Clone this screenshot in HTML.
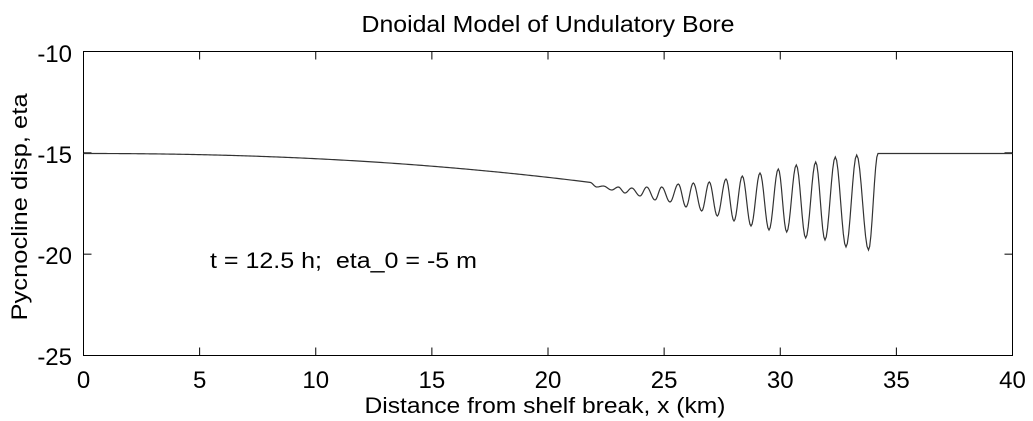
<!DOCTYPE html>
<html><head><meta charset="utf-8"><style>
html,body{margin:0;padding:0;background:#fff;}
svg{display:block;font-family:"Liberation Sans",Arial,sans-serif;}
</style></head><body>
<svg id="s" width="1033" height="421" viewBox="0 0 1033 421">
<rect x="0" y="0" width="1033" height="421" fill="#fff"/>
<text x="548" y="32" font-size="23" text-anchor="middle" textLength="373" lengthAdjust="spacingAndGlyphs">Dnoidal Model of Undulatory Bore</text>
<rect x="83.5" y="51.5" width="929" height="304" fill="none" stroke="#000" stroke-width="1"/>
<g id="ticks" stroke="#000" stroke-width="1"></g>
<g font-size="24" text-anchor="end">
<text x="72" y="62">-10</text>
<text x="72" y="163">-15</text>
<text x="72" y="264">-20</text>
<text x="72" y="365">-25</text>
</g>
<g id="xl" font-size="24" text-anchor="middle"></g>
<text x="545" y="413" font-size="22" text-anchor="middle" textLength="361" lengthAdjust="spacingAndGlyphs">Distance from shelf break, x (km)</text>
<text transform="translate(27,207) rotate(-90)" font-size="22" text-anchor="middle" textLength="227" lengthAdjust="spacingAndGlyphs">Pycnocline disp, eta</text>
<text x="210" y="268" font-size="22" textLength="267" lengthAdjust="spacingAndGlyphs" xml:space="preserve">t = 12.5 h;  eta_0 = -5 m</text>
<path id="c" fill="none" stroke="#333" stroke-width="1.2"/>
</svg>
<script>
var X0=83.5,X1=1012.5,Y0=51.5,Y1=355.5;
var t='',xl='';
for(var i=0;i<=8;i++){var x=X0+(X1-X0)*i/8;
 if(i>0&&i<8)t+='<line x1="'+x+'" y1="'+Y1+'" x2="'+x+'" y2="'+(Y1-8)+'"/><line x1="'+x+'" y1="'+Y0+'" x2="'+x+'" y2="'+(Y0+8)+'"/>';
 xl+='<text x="'+x+'" y="388">'+(i*5)+'</text>';}
for(var j=1;j<3;j++){var y=Y0+(Y1-Y0)*j/3;
 t+='<line x1="'+X0+'" y1="'+y+'" x2="'+(X0+8)+'" y2="'+y+'"/><line x1="'+X1+'" y1="'+y+'" x2="'+(X1-8)+'" y2="'+y+'"/>';}
document.getElementById('ticks').innerHTML=t;
document.getElementById('xl').innerHTML=xl;
var d='M83.5,153.5';
function base(x){return 153.5+28*Math.pow((x-83)/500,2.2);}
for(var x=84;x<=590;x+=2)d+=' L'+x+','+base(x).toFixed(2);
var ex=[[596.7,187],[603.3,186],[611.7,190],[618.3,187],[625,193],[631.7,188],[640,196],[646.7,187],[655,200],[661.7,187],[670,202],[678.3,184],[686,207],[693.3,183],[701.7,211],[709.3,182],[717.3,216],[726,179],[734,221],[742.3,176],[751,226],[760,173],[769,230],[778.3,169],[786.7,232],[796.3,165],[805.7,238],[815.7,162],[825,240],[835.3,157],[846,247],[856.7,155],[868.5,250],[878,153.5]];
var px=590,py=base(590);
for(var k=0;k<ex.length;k++){var nx=ex[k][0],ny=ex[k][1];
 for(var s=1;s<=8;s++){var f=s/8,w=(1-Math.cos(Math.PI*f))/2;d+=' L'+(px+(nx-px)*f).toFixed(2)+','+(py+(ny-py)*w).toFixed(2);}
 px=nx;py=ny;}
d+=' L1012.5,153.5';
document.getElementById('c').setAttribute('d',d);
</script>
</body></html>
